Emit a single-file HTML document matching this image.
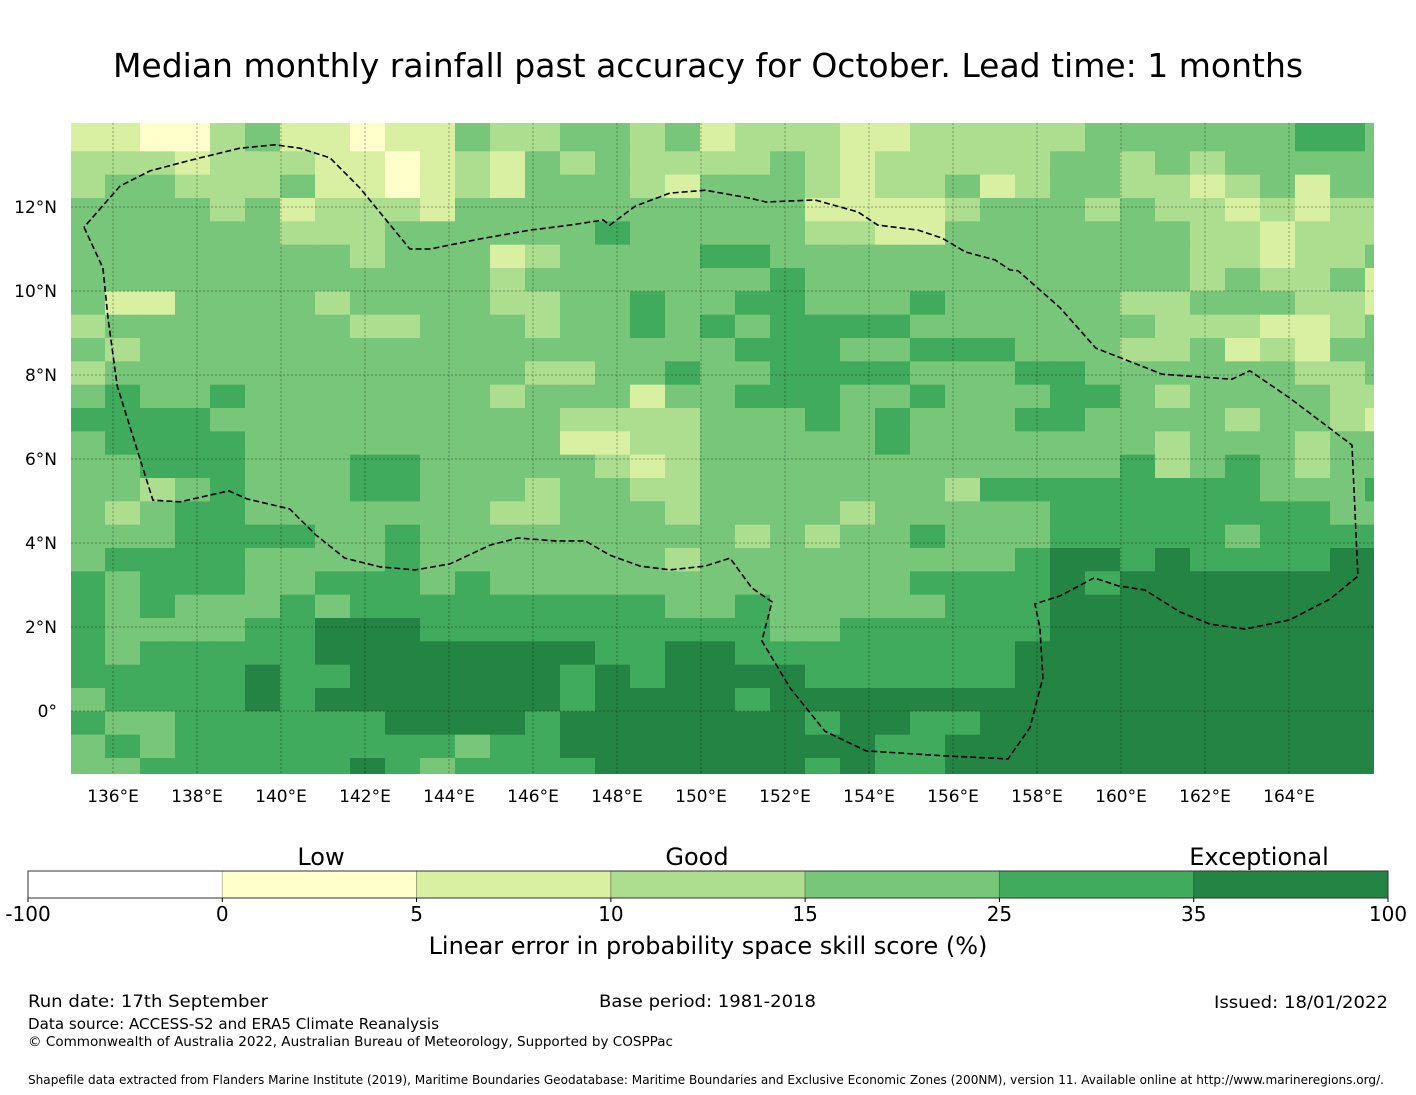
<!DOCTYPE html>
<html><head><meta charset="utf-8"><title>Median monthly rainfall past accuracy</title>
<style>
html,body{margin:0;padding:0;background:#fff;}
svg{display:block;font-family:"DejaVu Sans","Liberation Sans",sans-serif;}
</style></head>
<body>
<svg id="chart" width="1416" height="1095" viewBox="0 0 1416 1095" xmlns="http://www.w3.org/2000/svg">
<text x="708" y="77" font-size="33" text-anchor="middle" fill="#000">Median monthly rainfall past accuracy for October. Lead time: 1 months</text>
<g id="map"></g>
<g id="axes"></g>
<g id="cbar"></g>
<text x="321" y="865" font-size="24" text-anchor="middle">Low</text>
<text x="697" y="865" font-size="24" text-anchor="middle">Good</text>
<text x="1259" y="865" font-size="24" text-anchor="middle">Exceptional</text>
<text x="708" y="954" font-size="24" text-anchor="middle">Linear error in probability space skill score (%)</text>
<text x="28" y="1007" font-size="17" textLength="240" lengthAdjust="spacingAndGlyphs">Run date: 17th September</text>
<text x="599" y="1007" font-size="17" textLength="217" lengthAdjust="spacingAndGlyphs">Base period: 1981-2018</text>
<text x="1388" y="1008" font-size="17" text-anchor="end" textLength="174" lengthAdjust="spacingAndGlyphs">Issued: 18/01/2022</text>
<text x="28" y="1029" font-size="15" textLength="411" lengthAdjust="spacingAndGlyphs">Data source: ACCESS-S2 and ERA5 Climate Reanalysis</text>
<text x="28" y="1046" font-size="13" textLength="645" lengthAdjust="spacingAndGlyphs">© Commonwealth of Australia 2022, Australian Bureau of Meteorology, Supported by COSPPac</text>
<text x="28" y="1084" font-size="12" textLength="1356" lengthAdjust="spacingAndGlyphs">Shapefile data extracted from Flanders Marine Institute (2019), Maritime Boundaries Geodatabase: Maritime Boundaries and Exclusive Economic Zones (200NM), version 11. Available online at http://www.marineregions.org/.</text>
</svg>
<script>
// ---- data ----
const lonTicks = [136,138,140,142,144,146,148,150,152,154,156,158,160,162,164];
const latTicks = [0,2,4,6,8,10,12];
const cbarBounds = [-100,0,5,10,15,25,35,100];
const cbarColors = ["#ffffff","#ffffcc","#d9f0a3","#addd8e","#78c679","#41ab5d","#238443"];
// representative skill score (%) for each class digit in the grid
const classScore = [-20,2.5,7.5,12.5,20,30,50];
// each row: west segment (13 cols), middle (12 cols), east (13 cols)
const skillRowParts = [
["2211342212243","344342333223","3333444444554"],
["2211342212243","344342333223","3333444444554"],
["3332333221232","434333343233","3334434344444"],
["3443334221232","444324443233","4234433234244"],
["4444342333244","444444442222","3444343323233"],
["4444443334444","445444443322","4444444332333"],
["4444444434442","344445544444","4444444332334"],
["4444444444443","444444454444","4444444343342"],
["4224444344443","344544554445","4444433444332"],
["3444444433444","344545455554","4444443332234"],
["4344444444444","444444555445","5544433423244"],
["3444444444444","334454455554","4455444444334"],
["4544544444443","444244555445","4445543444433"],
["5555444444444","433334445454","4455444434432"],
["4555544444444","422334444454","4444443444344"],
["4455544455444","443234444444","4444453454344"],
["4434544455444","344334444444","3555555554445"],
["4345544444443","344434444344","4445555555544"],
["4445555445444","444444343445","4445555545555"],
["4555544445444","444434444444","4456656555566"],
["5455544555454","444444444445","5556566666666"],
["5454445455555","555544544444","5556666666666"],
["5444455666555","555555544555","5556666666666"],
["5455555666666","665566555555","5566666666666"],
["5555565566666","656566665555","5566666666666"],
["4555565666666","656666566666","6666666666666"],
["5445555556666","566666665665","5666666666666"],
["4545555555545","566666666655","6666666666666"],
["4455555565455","556666665655","6666666666666"]
];
const skillRows = skillRowParts.map(p=>p.join(''));
const boundaryLon = [], boundaryLat = [];
// EEZ outline vertices (lon, lat)
const boundaryPts = [[135.31,11.52],[135.76,10.55],[135.88,9.36],[136.10,7.74],[136.95,5.02],[137.60,4.98],[138.31,5.14],[138.76,5.24],[139.19,5.05],[140.21,4.81],[140.83,4.19],[141.52,3.64],[142.36,3.43],[143.19,3.36],[144.02,3.50],[144.98,3.95],[145.64,4.12],[146.52,4.05],[147.24,4.05],[147.83,3.71],[148.55,3.45],[149.26,3.36],[150.10,3.45],[150.69,3.64],[151.21,2.93],[151.69,2.60],[151.45,1.67],[152.12,0.55],[152.95,-0.48],[153.93,-0.95],[155.81,-1.07],[157.31,-1.14],[157.83,-0.40],[158.14,0.79],[158.07,1.98],[157.95,2.55],[158.55,2.74],[159.36,3.17],[159.93,2.98],[160.57,2.88],[161.40,2.36],[162.12,2.07],[162.95,1.95],[164.02,2.17],[164.98,2.67],[165.64,3.21],[165.50,6.33],[164.02,7.45],[163.07,8.10],[162.64,7.90],[160.98,8.02],[159.40,8.64],[158.55,9.60],[157.55,10.48],[157.36,10.50],[157.00,10.74],[156.29,10.93],[155.74,11.26],[155.17,11.45],[154.21,11.57],[153.74,11.88],[152.71,12.17],[151.55,12.12],[151.17,12.21],[150.10,12.40],[149.26,12.33],[148.43,12.02],[147.83,11.57],[147.67,11.69],[146.88,11.57],[145.93,11.45],[144.74,11.24],[143.55,11.00],[143.07,11.00],[141.88,12.45],[141.17,13.17],[140.45,13.40],[139.86,13.48],[139.02,13.40],[138.07,13.17],[137.60,13.05],[136.88,12.86],[136.17,12.50],[135.31,11.52]];
boundaryPts.forEach(p=>{boundaryLon.push(p[0]);boundaryLat.push(p[1]);});

// ---- layout ----
const NS="http://www.w3.org/2000/svg";
const X0=71,X1=1374,Y0=123,Y1=774;
const lonMin=135, pxPerDeg=42, latMax=14;
function xOf(lon){return X0+(lon-lonMin)*pxPerDeg;}
function yOf(lat){return Y0+(latMax-lat)*pxPerDeg;}
const cellLonW=35/42, cellLatH=(70/3)/42;
const col1Lon=lonMin+(105-X0)/pxPerDeg;
const row1Lat=latMax-(128-Y0)/pxPerDeg;
function colorFor(v){for(let i=0;i<cbarColors.length;i++){if(v<cbarBounds[i+1])return cbarColors[i];}return cbarColors[cbarColors.length-1];}
function mk(tag,attrs,parent){const e=document.createElementNS(NS,tag);for(const k in attrs)e.setAttribute(k,attrs[k]);parent.appendChild(e);return e;}

const map=document.getElementById('map');
const clip=mk('clipPath',{id:'mapclip'},map);
mk('rect',{x:X0,y:Y0,width:X1-X0,height:Y1-Y0},clip);
mk('rect',{x:X0,y:Y0,width:X1-X0,height:Y1-Y0,fill:'#78c679'},map);
const cells=mk('g',{'clip-path':'url(#mapclip)'},map);


skillRows.forEach((row,r)=>{
  for(let c=0;c<row.length;c++){
    const v=classScore[+row[c]];
    const lonW=col1Lon+(c-1)*cellLonW, lonE=lonW+cellLonW;
    const latT=row1Lat-(r-1)*cellLatH, latB=latT-cellLatH;
    const xa=Math.max(X0,xOf(lonW)), xb=Math.min(X1,xOf(lonE)+(c===row.length-1?20:0));
    const ya=Math.max(Y0,yOf(latT)), yb=Math.min(Y1,yOf(latB));
    if(xb<=xa||yb<=ya) continue;
    const rc=mk('rect',{x:xa.toFixed(2),y:ya.toFixed(2),width:(xb-xa+0.4).toFixed(2),height:(yb-ya+0.4).toFixed(2),fill:colorFor(v)},cells);
    
    
  }
});
// gridlines
const grid=mk('g',{stroke:'#000','stroke-opacity':'0.35','stroke-width':'1','stroke-dasharray':'2,2'},map);


lonTicks.forEach(l=>{mk('line',{x1:xOf(l),x2:xOf(l),y1:Y0,y2:Y1},grid);});
latTicks.forEach(l=>{mk('line',{x1:X0,x2:X1,y1:yOf(l),y2:yOf(l)},grid);});
// boundary
let d='';
boundaryLon.forEach((lo,i)=>{d+=(i?'L':'M')+xOf(lo).toFixed(1)+','+yOf(boundaryLat[i]).toFixed(1);});
const bp=mk('path',{d:d,fill:'none',stroke:'#000','stroke-width':'1.6','stroke-dasharray':'6,3','clip-path':'url(#mapclip)'},map);



// axes labels
const axes=document.getElementById('axes');
lonTicks.forEach(l=>{
  const t=mk('text',{x:xOf(l),y:802,'font-size':'17','text-anchor':'middle'},axes);
  t.textContent=l+'°E';
  
  
});
latTicks.forEach(l=>{
  const t=mk('text',{x:57,y:yOf(l)+6,'font-size':'17','text-anchor':'end'},axes);
  t.textContent=l===0?'0°':l+'°N';
  
  
});

// colorbar
const cb=document.getElementById('cbar');
const CX0=28,CX1=1388,CY0=871,CY1=898;
const segW=(CX1-CX0)/cbarColors.length;
cbarColors.forEach((col,i)=>{
  const r=mk('rect',{x:CX0+i*segW,y:CY0,width:segW,height:CY1-CY0,fill:col,stroke:i?'rgba(0,0,0,0.25)':'none','stroke-width':'1'},cb);
  
  
});
mk('rect',{x:CX0,y:CY0,width:CX1-CX0,height:CY1-CY0,fill:'none',stroke:'#333','stroke-width':'1'},cb);
cbarBounds.forEach((b,i)=>{
  const x=CX0+i*segW;
  mk('line',{x1:x,x2:x,y1:CY1,y2:CY1+4,stroke:'#000'},cb);
  const t=mk('text',{x:x,y:921,'font-size':'20','text-anchor':'middle'},cb);
  t.textContent=String(b);
  
  
});
</script>
</body></html>
